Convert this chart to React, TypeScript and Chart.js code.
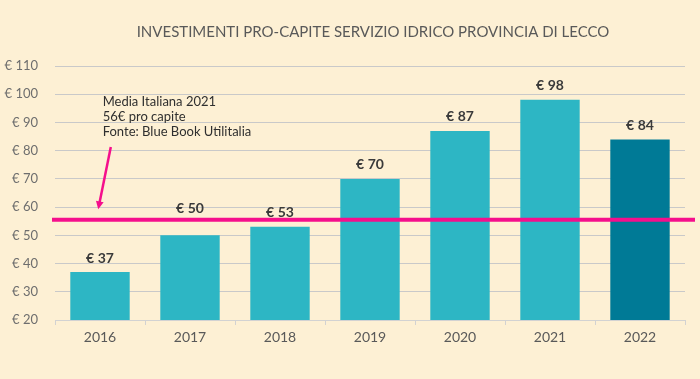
import React, { useEffect, useRef } from "react";
import { Chart, registerables } from "chart.js";

Chart.register(...registerables);

const categories = ["2016", "2017", "2018", "2019", "2020", "2021", "2022"];
const values = [37, 50, 53, 70, 87, 98, 84];
const barColors = ["#2DB6C4", "#2DB6C4", "#2DB6C4", "#2DB6C4", "#2DB6C4", "#2DB6C4", "#007A96"];
const labelLift = [0, 13, 0, 0, 0, 0, 0];
const mediaItaliana = 55.5;
const titleText = "INVESTIMENTI PRO-CAPITE SERVIZIO IDRICO PROVINCIA DI LECCO";
const noteLines = ["Media Italiana 2021", "56€ pro capite", "Fonte: Blue Book Utilitalia"];

const FONT = "Lato, 'Noto Sans', sans-serif";
const PINK = "#F50F8C";

const overlayPlugin = {
  id: "overlay",
  afterDatasetsDraw(chart: any) {
    const { ctx, chartArea, scales } = chart;
    const x = scales.x;
    const y = scales.y;
    ctx.save();
    // title
    ctx.fillStyle = "#595959";
    ctx.font = `15px ${FONT}`;
    ctx.textAlign = "center";
    ctx.textBaseline = "middle";
    ctx.fillText(titleText, (chartArea.left + chartArea.right) / 2 + 3, 32);

    // value labels
    const meta = chart.getDatasetMeta(0);
    ctx.font = `bold 14px ${FONT}`;
    ctx.fillStyle = "#3A3A3A";
    ctx.textBaseline = "bottom";
    meta.data.forEach((bar: any, i: number) => {
      ctx.fillText("€ " + values[i], bar.x, bar.y - 7 - labelLift[i]);
    });

    // average line
    const yLine = y.getPixelForValue(mediaItaliana);
    ctx.strokeStyle = PINK;
    ctx.lineWidth = 4;
    ctx.beginPath();
    ctx.moveTo(chartArea.left - 3, yLine);
    ctx.lineTo(chartArea.right + 10, yLine);
    ctx.stroke();

    // note text
    ctx.fillStyle = "#2F2F2F";
    ctx.font = `13px ${FONT}`;
    ctx.textAlign = "left";
    ctx.textBaseline = "middle";
    const tx = x.getPixelForValue(0.03);
    noteLines.forEach((line, i) => {
      ctx.fillText(line, tx, y.getPixelForValue(97.2 - i * 5.3));
    });

    // arrow
    const x1 = x.getPixelForValue(0.12);
    const y1 = y.getPixelForValue(81.3);
    const x2 = x.getPixelForValue(-0.02);
    const y2 = y.getPixelForValue(59.2);
    const ang = Math.atan2(y2 - y1, x2 - x1);
    const head = 9;
    ctx.strokeStyle = PINK;
    ctx.fillStyle = PINK;
    ctx.lineWidth = 2.5;
    ctx.beginPath();
    ctx.moveTo(x1, y1);
    ctx.lineTo(x2 - Math.cos(ang) * head * 0.8, y2 - Math.sin(ang) * head * 0.8);
    ctx.stroke();
    ctx.beginPath();
    ctx.moveTo(x2, y2);
    ctx.lineTo(x2 - head * Math.cos(ang - 0.45), y2 - head * Math.sin(ang - 0.45));
    ctx.lineTo(x2 - head * Math.cos(ang + 0.45), y2 - head * Math.sin(ang + 0.45));
    ctx.closePath();
    ctx.fill();
    ctx.restore();
  },
};

const bgPlugin = {
  id: "bg",
  beforeDraw(chart: any) {
    const { ctx, width, height } = chart;
    ctx.save();
    ctx.fillStyle = "#FDF0D4";
    ctx.fillRect(0, 0, width, height);
    ctx.restore();
  },
};

export default function App() {
  const ref = useRef<HTMLCanvasElement | null>(null);
  useEffect(() => {
    document.body.style.margin = "0";
    const chart = new Chart(ref.current as HTMLCanvasElement, {
      type: "bar",
      data: {
        labels: categories,
        datasets: [
          {
            data: values,
            backgroundColor: barColors,
            barPercentage: 0.66,
            categoryPercentage: 1,
          },
        ],
      },
      options: {
        animation: false,
        responsive: false,
        maintainAspectRatio: false,
        layout: { padding: { top: 66, right: 15, left: 0, bottom: 0 } },
        plugins: { legend: { display: false }, tooltip: { enabled: false }, title: { display: false } },
        scales: {
          x: {
            afterFit(scale: any) {
              scale.height = 59;
            },
            grid: { drawOnChartArea: false, drawTicks: true, tickLength: 5, color: "#D2D2D2" },
            border: { display: true, color: "#D2D2D2", width: 1 },
            ticks: { color: "#595959", font: { family: FONT, size: 14 }, padding: 4 },
          },
          y: {
            min: 20,
            max: 110,
            afterFit(scale: any) {
              scale.width = 55;
            },
            grid: { color: "#C9C9C9", drawTicks: false, lineWidth: 1 },
            border: { display: false },
            ticks: {
              stepSize: 10,
              padding: 17,
              color: "#6E6E6E",
              font: { family: FONT, size: 13 },
              callback: (v: any) => "€ " + v,
            },
          },
        },
      },
      plugins: [bgPlugin, overlayPlugin],
    });
    return () => chart.destroy();
  }, []);
  return (
    <div style={{ width: 700, height: 379 }}>
      <canvas ref={ref} width={700} height={379} style={{ display: "block" }} />
    </div>
  );
}
